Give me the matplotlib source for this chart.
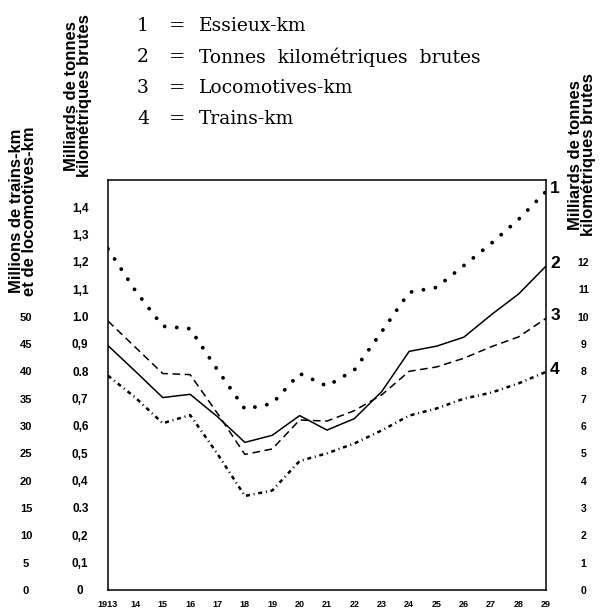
import matplotlib
matplotlib.use("Agg")
import matplotlib.pyplot as plt

# years 1913 .. 1929
years = list(range(1913, 1930))
year_labels = ["1913"] + [str(y)[2:] for y in years[1:]]

# 1 = Essieux-km (milliards)
essieux_km = [1.248, 1.095, 0.965, 0.956, 0.805, 0.662, 0.682, 0.792, 0.746,
              0.805, 0.945, 1.089, 1.107, 1.187, 1.268, 1.356, 1.458]
# 2 = Tonnes kilométriques brutes (milliards)
tkm_brutes = [8.94, 8.00, 7.04, 7.16, 6.34, 5.40, 5.66, 6.38, 5.85,
              6.27, 7.26, 8.73, 8.92, 9.25, 10.07, 10.83, 11.85]
# 3 = Locomotives-km (millions)
loco_km = [49.2, 44.4, 39.6, 39.4, 32.3, 24.8, 25.8, 31.1, 30.9,
           32.8, 35.7, 40.0, 40.8, 42.4, 44.5, 46.3, 49.7]
# 4 = Trains-km (millions)
trains_km = [39.2, 35.2, 30.5, 32.0, 24.9, 17.2, 18.2, 23.6, 25.0,
             26.8, 29.2, 31.9, 33.2, 35.0, 36.1, 37.8, 39.9]

legend_nums = ["1", "2", "3", "4"]
legend_names = ["Essieux-km", "Tonnes  kilométriques  brutes",
                "Locomotives-km", "Trains-km"]

mid_ticks = [i / 10 for i in range(15)]
mid_labels = ["0", "0,1", "0,2", "0.3", "0,4", "0,5", "0,6", "0,7", "0.8",
              "0,9", "1.0", "1,1", "1,2", "1,3", "1,4"]
mill_ticks = list(range(0, 55, 5))
right_ticks = list(range(0, 13))

sans = ["Liberation Sans Narrow", "Liberation Sans", "DejaVu Sans"]
serif = ["DejaVu Serif", "Liberation Serif"]

fig = plt.figure(figsize=(6.01, 6.16), dpi=100)
W, H = 601, 616
ax = fig.add_axes([108 / W, (H - 590) / H, 438 / W, 410 / H])

# everything drawn on the middle scale (0 - 1.5)
series = [
    [v for v in essieux_km],
    [v / 10 for v in tkm_brutes],
    [v / 50 for v in loco_km],
    [v / 50 for v in trains_km],
]
styles = [
    dict(lw=2.8, ls=(0, (0.01, 3.1)), dash_capstyle="round"),
    dict(lw=1.1, ls="-"),
    dict(lw=1.1, ls=(0, (5, 3))),
    dict(lw=1.8, ls=(0, (1.6, 1.5, 0.4, 1.5))),
]
for vals, st, num in zip(series, styles, legend_nums):
    ax.plot(years, vals, color="black", **st)
    ax.annotate(num, (years[-1], vals[-1]), xytext=(3, 2), textcoords="offset points",
                ha="left", va="center", fontsize=12.5, fontweight="bold",
                family=sans, annotation_clip=False)

ax.set_xlim(1913, 1929)
ax.set_ylim(0, 1.5)
for s in ax.spines.values():
    s.set_linewidth(1.1)

ax.set_xticks(years)
ax.set_xticklabels(year_labels, fontsize=6.5, fontweight="bold", family=sans)
ax.tick_params(axis="x", length=0, pad=7)

ax.set_yticks(mid_ticks)
ax.set_yticklabels(mid_labels, fontsize=8.5, fontweight="bold", family=sans, ha="center")
ax.tick_params(axis="y", length=0, pad=20)

sec_l = ax.secondary_yaxis("left", functions=(lambda v: v * 50, lambda m: m / 50))
sec_l.set_yticks(mill_ticks)
sec_l.set_yticklabels([str(m) for m in mill_ticks], fontsize=8, fontweight="bold",
                      family=sans, ha="center")
sec_l.tick_params(length=0, pad=59)
sec_l.spines["left"].set_visible(False)

sec_r = ax.secondary_yaxis("right", functions=(lambda v: v * 10, lambda t: t / 10))
sec_r.set_yticks(right_ticks)
sec_r.set_yticklabels([str(t) for t in right_ticks], fontsize=7.5, fontweight="bold",
                      family=sans, ha="center")
sec_r.tick_params(length=0, pad=27)
sec_r.spines["right"].set_visible(False)

# axis titles
title_kw = dict(rotation=90, ha="center", va="center", fontsize=12, fontweight="bold",
                family=sans, linespacing=0.9)
fig.text(23 / W, 1 - 211 / H, "Millions de trains-km\net de locomotives-km", **title_kw)
fig.text(78 / W, 1 - 96 / H, "Milliards de tonnes\nkilométriques brutes", **title_kw)
fig.text(582 / W, 1 - 155 / H, "Milliards de tonnes\nkilométriques brutes", **title_kw)

# legend block
for i, (n, name) in enumerate(zip(legend_nums, legend_names)):
    y = 1 - (26 + 31 * i) / H
    fig.text(143 / W, y, n, ha="center", va="center", fontsize=13.5, family=serif)
    fig.text(177 / W, y, "=", ha="center", va="center", fontsize=14, family=serif)
    fig.text(199 / W, y, name, ha="left", va="center", fontsize=13.5, family=serif)

fig.savefig("out.png", dpi=100)
